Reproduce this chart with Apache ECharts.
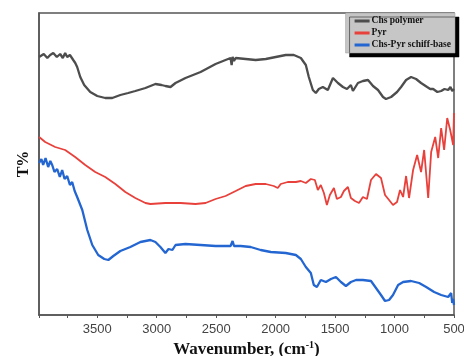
<!DOCTYPE html>
<html><head><meta charset="utf-8">
<script src="https://cdn.jsdelivr.net/npm/echarts@6/dist/echarts.min.js"></script>
<style>html,body{margin:0;padding:0;background:#fff}#c{width:464px;height:356px}</style>
</head><body><div id="c"></div>
<script>
var seriesNames = ['Chs polymer', 'Pyr', 'Chs-Pyr schiff-base'];
var xTickLabels = [500, 1000, 1500, 2000, 2500, 3000, 3500];

var chsWn = [3989,3950,3920,3896,3870,3840,3812,3790,3770,3753,3730,3702,3685,3669,3643,3610,3559,3500,3433,3374,3306,3240,3180,3095,3011,2960,2927,2884,2842,2758,2631,2505,2421,2379,2370,2362,2350,2336,2252,2168,2083,1999,1915,1847,1788,1746,1721,1687,1662,1637,1603,1561,1518,1476,1434,1400,1367,1350,1308,1266,1223,1181,1139,1097,1072,1029,979,945,903,861,819,777,726,700,675,640,608,580,549,530,515,500];
var chsT  = [258,261,257,260,262,258,261,257,262,258,260,255,252,248,238,230,223,219,217,217,220,222,224,227,231,230,229,228,232,237,243,251,255,257,250,258,254,257,256,255,256,258,260,260,257,250,238,225,222,226,228,225,237,232,228,226,230,224,232,234,235,229,225,218,216,218,223,228,235,238,236,232,228,226,226,223,224,226,225,228,224,226];

var pyrWn = [3989,3938,3854,3770,3686,3601,3517,3433,3348,3264,3180,3095,3053,2927,2800,2674,2589,2505,2421,2336,2252,2168,2083,2016,1982,1957,1898,1830,1788,1746,1704,1670,1645,1620,1594,1569,1544,1510,1485,1451,1426,1392,1367,1333,1299,1266,1232,1198,1156,1114,1080,1046,1013,979,954,928,903,878,844,810,777,751,717,692,658,633,608,583,557,532,507,500];
var pyrT  = [178,173,168,165,158,150,143,138,131,123,117,112,111,112,112,111,112,116,119,124,129,131,131,129,127,131,133,133,134,132,136,135,125,130,122,110,120,127,116,118,124,128,117,114,112,118,116,135,141,137,120,115,110,113,125,118,139,117,145,160,143,165,117,163,178,157,187,165,197,185,170,202];

var schWn = [3989,3970,3955,3935,3913,3895,3879,3860,3837,3815,3795,3775,3753,3730,3711,3690,3669,3626,3584,3542,3492,3441,3407,3365,3306,3222,3137,3053,3011,2969,2927,2901,2868,2842,2758,2631,2505,2379,2362,2350,2294,2210,2126,2041,1915,1830,1788,1746,1704,1679,1653,1620,1577,1535,1493,1451,1409,1367,1324,1266,1198,1156,1114,1080,1046,1013,970,928,861,793,734,667,608,549,524,515,507,500];
var schT  = [152,156,150,157,148,154,150,143,146,138,145,136,139,130,133,124,118,105,85,70,60,56,55,59,64,68,73,75,73,68,62,66,65,70,71,70,69,69,74,69,69,68,65,63,62,60,56,48,42,30,28,35,33,36,38,33,29,33,35,35,34,27,20,14,15,20,30,33,34,32,28,23,20,18,22,12,16,10];

var colors = ['#4d4d4d', '#e8403b', '#2366d1'];

function pairs(w, t) { return w.map(function (v, i) { return [v, t[i]]; }); }

var chart = echarts.init(document.getElementById('c'), null, {renderer: 'canvas'});
var serif = 'Liberation Serif';
chart.setOption({
  animation: false,
  grid: {left: 39, top: 13, right: 10, bottom: 41, show: true, borderColor: '#555', borderWidth: 1.5, outerBoundsMode: 'none', containLabel: false},
  legend: {
    orient: 'vertical', right: 9, top: 13,
    data: seriesNames, icon: 'rect',
    backgroundColor: '#c6c6c6', borderColor: '#999', borderWidth: 0.5,
    shadowColor: '#000', shadowOffsetX: 4, shadowOffsetY: 4, shadowBlur: 0,
    padding: [3, 4, 3, 9], itemGap: 2, itemWidth: 15, itemHeight: 3,
    textStyle: {fontFamily: serif, fontWeight: 'bold', fontSize: 9.5, color: '#111', padding: [0, 0, 0, -3]}
  },
  xAxis: {
    type: 'value', inverse: true, min: 500, max: 3990, interval: 500,
    name: 'Wavenumber, (cm{sup|-1})', nameLocation: 'middle', nameGap: 25,
    nameTextStyle: {fontFamily: serif, fontWeight: 'bold', fontSize: 17, color: '#111',
      rich: {sup: {fontFamily: serif, fontWeight: 'bold', fontSize: 10, color: '#111', verticalAlign: 'top', padding: [0, 0, 8, 0]}}},
    axisLine: {lineStyle: {color: '#555', width: 1.5}},
    axisTick: {length: 3, lineStyle: {color: '#555'}},
    minorTick: {show: true, splitNumber: 2, length: 3, lineStyle: {color: '#555'}},
    splitLine: {show: false},
    axisLabel: {fontFamily: 'Liberation Sans', fontSize: 13, color: '#444', margin: 8,
      formatter: function (v) { return xTickLabels.indexOf(v) >= 0 ? String(v) : ''; }}
  },
  yAxis: {
    type: 'value', min: 0, max: 302,
    name: 'T%', nameLocation: 'middle', nameGap: 7, nameRotate: 90,
    nameTextStyle: {fontFamily: serif, fontWeight: 'bold', fontSize: 16, color: '#111'},
    axisLine: {show: true, lineStyle: {color: '#555', width: 1.5}},
    axisTick: {show: false}, axisLabel: {show: false}, splitLine: {show: false}
  },
  series: [
    {name: seriesNames[0], type: 'line', symbol: 'none', data: pairs(chsWn, chsT), lineStyle: {color: colors[0], width: 2.3}, itemStyle: {color: colors[0]}, z: 3},
    {name: seriesNames[1], type: 'line', symbol: 'none', data: pairs(pyrWn, pyrT), lineStyle: {color: colors[1], width: 1.8}, itemStyle: {color: colors[1]}, z: 2},
    {name: seriesNames[2], type: 'line', symbol: 'none', data: pairs(schWn, schT), lineStyle: {color: colors[2], width: 2.3}, itemStyle: {color: colors[2]}, z: 2}
  ]
});
</script></body></html>
